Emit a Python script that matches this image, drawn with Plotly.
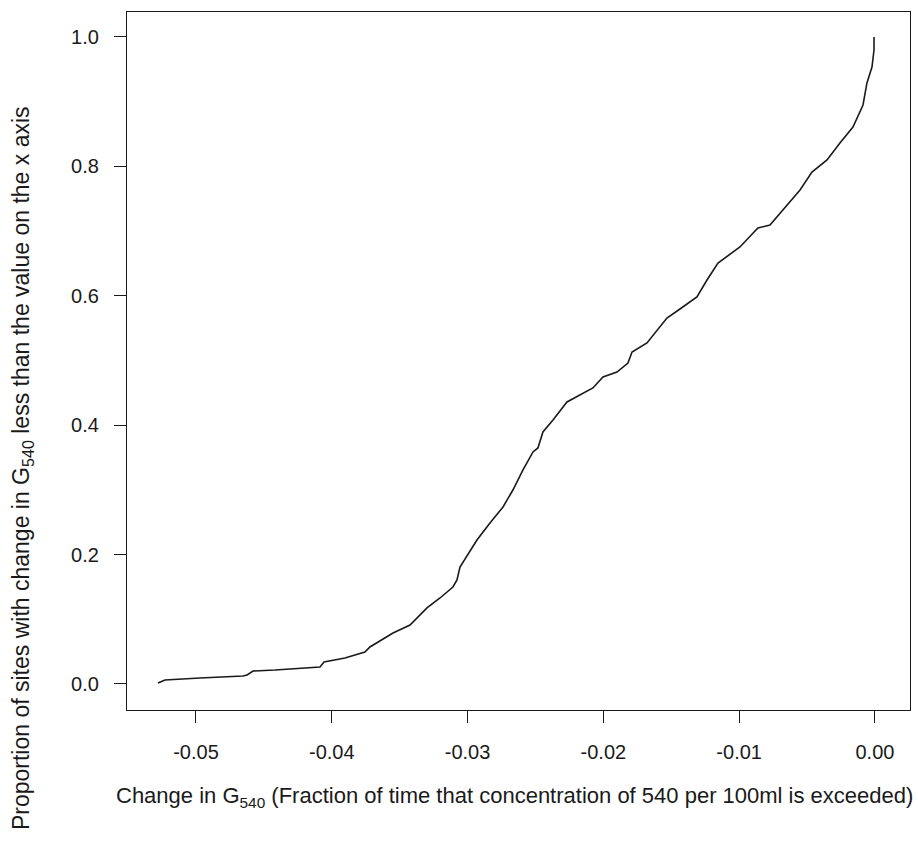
import plotly.graph_objects as go

# ECDF curve
change_g540 = [-0.05280, -0.05228, -0.04971, -0.04654, -0.04624, -0.04580, -0.04418, -0.04087,
               -0.04057, -0.03903, -0.03756, -0.03719, -0.03549, -0.03424, -0.03299, -0.03203,
               -0.03108, -0.03078, -0.03056, -0.02931, -0.02835, -0.02739, -0.02666, -0.02592,
               -0.02518, -0.02482, -0.02445, -0.02371, -0.02268, -0.02172, -0.02077, -0.02003,
               -0.01900, -0.01819, -0.01789, -0.01679, -0.01532, -0.01436, -0.01311, -0.01237,
               -0.01156, -0.00994, -0.00862, -0.00773, -0.00677, -0.00552, -0.00464, -0.00353,
               -0.00258, -0.00162, -0.00088, -0.00059, -0.00022, -0.00007, -0.00007]
proportion = [0.0015, 0.0062, 0.0093, 0.0124, 0.0139, 0.0201, 0.0216, 0.0263,
              0.0340, 0.0402, 0.0495, 0.0572, 0.0788, 0.0912, 0.1175, 0.1329,
              0.1499, 0.1607, 0.1808, 0.2226, 0.2488, 0.2736, 0.2998, 0.3308,
              0.3586, 0.3648, 0.3895, 0.4080, 0.4359, 0.4467, 0.4575, 0.4745,
              0.4822, 0.4961, 0.5131, 0.5270, 0.5657, 0.5796, 0.5981, 0.6244,
              0.6507, 0.6754, 0.7048, 0.7094, 0.7326, 0.7635, 0.7913, 0.8099,
              0.8362, 0.8609, 0.8949, 0.9289, 0.9536, 0.9799, 1.0000]

x_ticks = [-0.05, -0.04, -0.03, -0.02, -0.01, 0.00]
x_tick_labels = ["-0.05", "-0.04", "-0.03", "-0.02", "-0.01", "0.00"]
y_ticks = [0.0, 0.2, 0.4, 0.6, 0.8, 1.0]
y_tick_labels = ["0.0", "0.2", "0.4", "0.6", "0.8", "1.0"]

x_title = "Change in G<sub>540</sub> (Fraction of time that concentration of 540 per 100ml is exceeded)"
y_title = "Proportion of sites with change in G<sub>540</sub> less than the value on the x axis"

FONT = "Liberation Sans, Arial, sans-serif"

fig = go.Figure()
fig.add_trace(go.Scatter(x=change_g540, y=proportion, mode="lines",
                         line=dict(color="#1a1a1a", width=1.6), showlegend=False,
                         hoverinfo="skip"))

fig.update_layout(
    width=918, height=844,
    margin=dict(l=127, r=8, t=12, b=134),
    paper_bgcolor="white", plot_bgcolor="white",
    font=dict(family=FONT, color="#1a1a1a"),
    xaxis=dict(range=[-0.05508, 0.00258], tickvals=x_ticks, ticktext=x_tick_labels,
               showgrid=False, zeroline=False, showline=True, mirror=True,
               linecolor="#1a1a1a", linewidth=1.2, ticks="outside", ticklen=12,
               tickwidth=1, tickcolor="#1a1a1a", tickfont=dict(size=20, family=FONT),
               ticklabelstandoff=12),
    yaxis=dict(range=[-0.0402, 1.0386], tickvals=y_ticks, ticktext=y_tick_labels,
               showgrid=False, zeroline=False, showline=True, mirror=True,
               linecolor="#1a1a1a", linewidth=1.2, ticks="outside", ticklen=12,
               tickwidth=1, tickcolor="#1a1a1a", tickfont=dict(size=20, family=FONT),
               ticklabelstandoff=11),
    annotations=[
        dict(text=x_title, xref="paper", yref="paper", x=0.4955, y=-0.1246,
             showarrow=False, font=dict(size=22, family=FONT), xanchor="center", yanchor="middle"),
        dict(text=y_title, xref="paper", yref="paper", x=-0.134, y=0.3467, textangle=-90,
             showarrow=False, font=dict(size=23, family=FONT), xanchor="center", yanchor="middle"),
    ],
)

fig.write_html("out.html")
